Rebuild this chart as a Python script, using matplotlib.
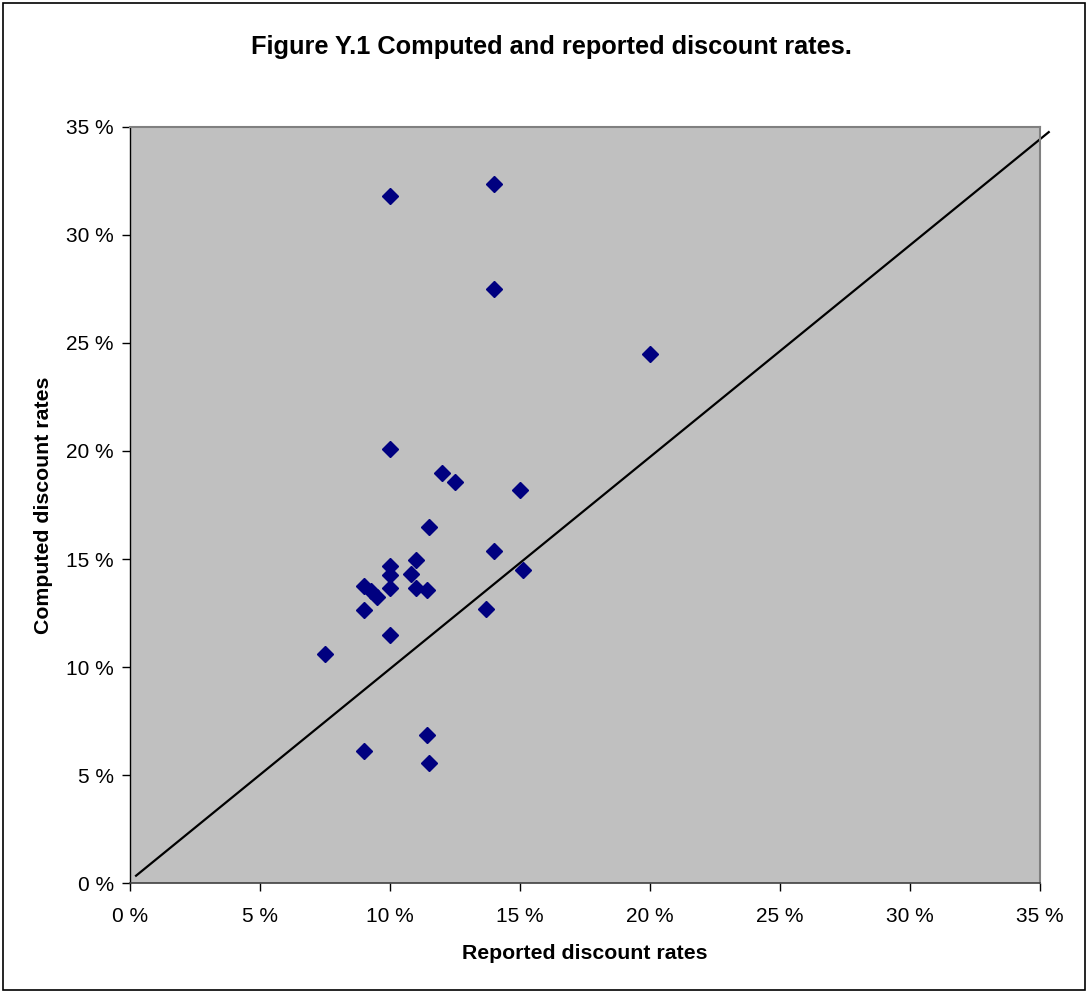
import numpy as np
import matplotlib
matplotlib.use("Agg")
import matplotlib.pyplot as plt
from matplotlib.patches import Rectangle
from matplotlib.ticker import MultipleLocator, FuncFormatter

plt.rcParams['font.family'] = ['Liberation Sans', 'DejaVu Sans']

# Reported (x) and computed (y) discount rates, in percent
reported = [10.0, 14.0, 14.0, 20.0, 10.0, 12.0, 12.5, 15.0, 11.5, 14.0,
            15.1, 11.0, 10.0, 10.0, 10.8, 10.0, 11.0, 11.4, 9.0, 9.25,
            9.5, 9.0, 13.7, 10.0, 7.5, 9.0, 11.4, 11.5]
computed = [31.8, 32.35, 27.5, 24.5, 20.1, 19.0, 18.55, 18.2, 16.47, 15.35,
            14.5, 14.95, 14.7, 14.25, 14.3, 13.65, 13.65, 13.57, 13.75, 13.5,
            13.25, 12.63, 12.7, 11.47, 10.6, 6.13, 6.87, 5.55]

# reference line end points (percent)
line_x = [0.22, 35.34]
line_y = [0.35, 34.75]

fig = plt.figure(figsize=(10.88, 9.93), dpi=100)
fig.patches.append(Rectangle((0.0028, 0.003), 0.9945, 0.994, transform=fig.transFigure,
                             fill=False, edgecolor='black', linewidth=1.2))

ax = fig.add_axes([0.1198, 0.1105, 0.836, 0.7619])
ax.set_facecolor('#C0C0C0')
for s in ax.spines.values():
    s.set_color('#808080')
    s.set_linewidth(1.5)
ax.spines['left'].set_color('black')
ax.spines['left'].set_linewidth(1.0)
ax.spines['bottom'].set_color('#404040')
ax.spines['bottom'].set_linewidth(1.2)

ax.plot(reported, computed, ls='none', marker='D', ms=8.2, color='#000080',
        markeredgecolor='#000080', zorder=3)
ax.plot(line_x, line_y, color='black', lw=1.6, clip_on=False, zorder=2)

ax.set_xlim(0, 35)
ax.set_ylim(0, 35)
ax.xaxis.set_major_locator(MultipleLocator(5))
ax.yaxis.set_major_locator(MultipleLocator(5))
fmt = FuncFormatter(lambda v, p: f"{v:.0f} %")
ax.xaxis.set_major_formatter(fmt)
ax.yaxis.set_major_formatter(fmt)
ax.tick_params(direction='out', length=6, width=1, labelsize=15)
ax.tick_params(axis='x', pad=11)
ax.tick_params(axis='y', pad=6)

ax.set_xlabel('Reported discount rates', fontsize=15.3, fontweight='bold', labelpad=13)
ax.set_ylabel('Computed discount rates', fontsize=15.3, fontweight='bold', labelpad=9)
fig.text(0.507, 0.953, 'Figure Y.1 Computed and reported discount rates.',
         ha='center', va='center', fontsize=18.3, fontweight='bold')

fig.savefig('out.png', dpi=100)
